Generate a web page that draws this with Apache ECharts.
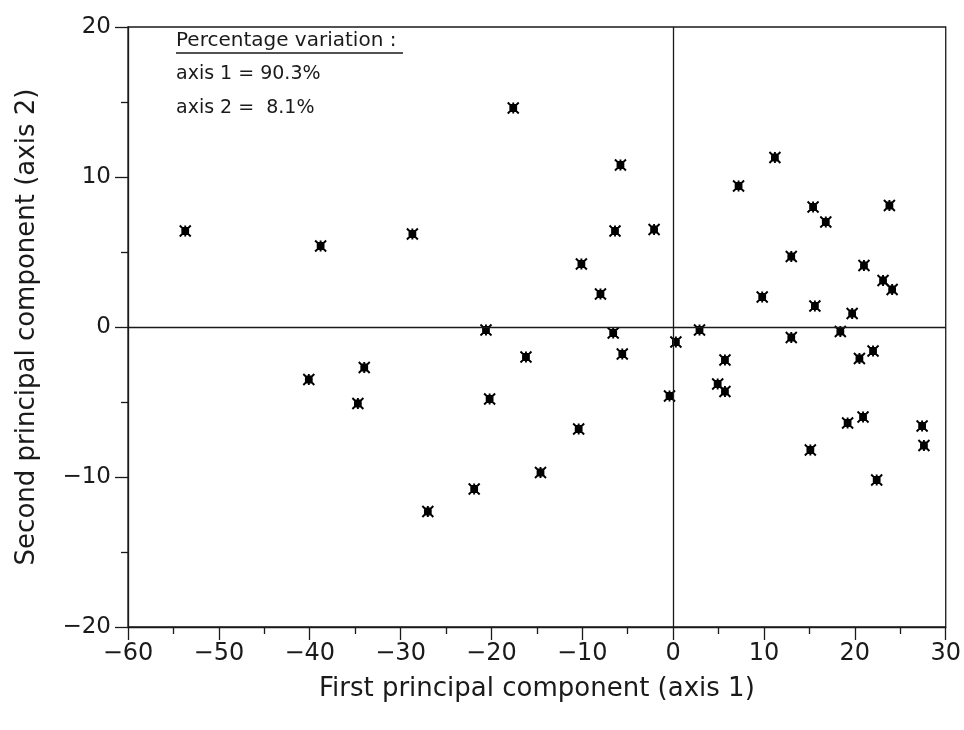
<!DOCTYPE html>
<html>
<head>
<meta charset="utf-8">
<script src="https://cdn.jsdelivr.net/npm/echarts@6/dist/echarts.min.js"></script>
<style>
  html, body { margin: 0; padding: 0; background: #fff; }
  #chart { width: 964px; height: 730px; }
</style>
</head>
<body>
<div id="chart"></div>
<script>
// First principal component (axis 1) scores
const pc1 = [-53.7, -38.8, -28.7, -17.6, -5.8, -6.4, -2.1, -10.1, -8.0, 11.2,
             7.2, 15.4, 23.8, 16.8, 13.0, 21.0, 23.1, 24.1, 9.8, 15.6,
             19.7, -20.6, -40.1, -34.0, -34.7, -20.2, -16.2, -14.6, -21.9, -27.0,
             -6.6, -5.6, 0.3, 2.9, 13.0, 18.4, 5.7, 20.5, 22.0, 4.9,
             5.7, -0.4, -10.4, 19.2, 20.9, 27.4, 27.6, 15.1, 22.4];
// Second principal component (axis 2) scores
const pc2 = [6.4, 5.4, 6.2, 14.6, 10.8, 6.4, 6.5, 4.2, 2.2, 11.3,
             9.4, 8.0, 8.1, 7.0, 4.7, 4.1, 3.1, 2.5, 2.0, 1.4,
             0.9, -0.2, -3.5, -2.7, -5.1, -4.8, -2.0, -9.7, -10.8, -12.3,
             -0.4, -1.8, -1.0, -0.2, -0.7, -0.3, -2.2, -2.1, -1.6, -3.8,
             -4.3, -4.6, -6.8, -6.4, -6.0, -6.6, -7.9, -8.2, -10.2];

const xTicks = [-60, -50, -40, -30, -20, -10, 0, 10, 20, 30];
const yTicks = [-20, -10, 0, 10, 20];

const annotationLines = ['Percentage variation :', 'axis 1 = 90.3%', 'axis 2 =  8.1%'];

const points = pc1.map((x, i) => [x, pc2[i]]);
const minusFmt = v => String(v).replace('-', '\u2212');

const chart = echarts.init(document.getElementById('chart'), null, { renderer: 'canvas' });
const font = 'DejaVu Sans';
const ink = '#1a1a1a';

chart.setOption({
  animation: false,
  backgroundColor: '#fff',
  grid: { left: 128, top: 27, width: 820, height: 600, show: true, borderColor: ink, borderWidth: 1.3, backgroundColor: 'transparent' },
  xAxis: {
    type: 'value', min: xTicks[0], max: xTicks[xTicks.length - 1], interval: 10,
    name: 'First principal component (axis 1)', nameLocation: 'middle', nameGap: 49,
    nameTextStyle: { fontFamily: font, fontSize: 26, color: ink },
    axisLine: { show: true, onZero: false, lineStyle: { color: ink, width: 1.3 } },
    axisTick: { show: true, inside: false, length: 13, lineStyle: { color: ink, width: 1.3 } },
    minorTick: { show: true, splitNumber: 2, length: 7, lineStyle: { color: ink, width: 1.3 } },
    splitLine: { show: false },
    axisLabel: { fontFamily: font, fontSize: 24, color: ink, margin: 15, formatter: minusFmt }
  },
  yAxis: {
    type: 'value', min: yTicks[0], max: yTicks[yTicks.length - 1], interval: 10,
    name: 'Second principal component (axis 2)', nameLocation: 'middle', nameGap: 88,
    nameTextStyle: { fontFamily: font, fontSize: 26, color: ink },
    axisLine: { show: true, onZero: false, lineStyle: { color: ink, width: 1.3 } },
    axisTick: { show: true, inside: false, length: 13, lineStyle: { color: ink, width: 1.3 } },
    minorTick: { show: true, splitNumber: 2, length: 7, lineStyle: { color: ink, width: 1.3 } },
    splitLine: { show: false },
    axisLabel: { fontFamily: font, fontSize: 23, color: ink, margin: 17, formatter: minusFmt }
  },
  graphic: [
    { type: 'text', left: 176, top: 31, style: { text: annotationLines[0], font: '20px "DejaVu Sans"', fill: ink } },
    { type: 'line', shape: { x1: 176, y1: 53, x2: 403, y2: 53 }, style: { stroke: ink, lineWidth: 1.3 } },
    { type: 'text', left: 176, top: 65, style: { text: annotationLines[1], font: '19px "DejaVu Sans"', fill: ink } },
    { type: 'text', left: 176, top: 99, style: { text: annotationLines[2], font: '19px "DejaVu Sans"', fill: ink } }
  ],
  series: [{
    type: 'scatter',
    data: points,
    symbol: 'path://M0.5,0.5L9.5,9.5M9.5,0.5L0.5,9.5M5,0.5L5,9.5M2.6,2.6L7.4,2.6L7.4,7.4L2.6,7.4Z',
    symbolSize: 11,
    itemStyle: { color: '#000', borderColor: '#000', borderWidth: 1.9, opacity: 1 },
    markLine: {
      silent: true, symbol: 'none', animation: false,
      label: { show: false },
      lineStyle: { color: ink, width: 1.3, type: 'solid' },
      data: [{ xAxis: 0 }, { yAxis: 0 }]
    }
  }]
});
</script>
</body>
</html>
